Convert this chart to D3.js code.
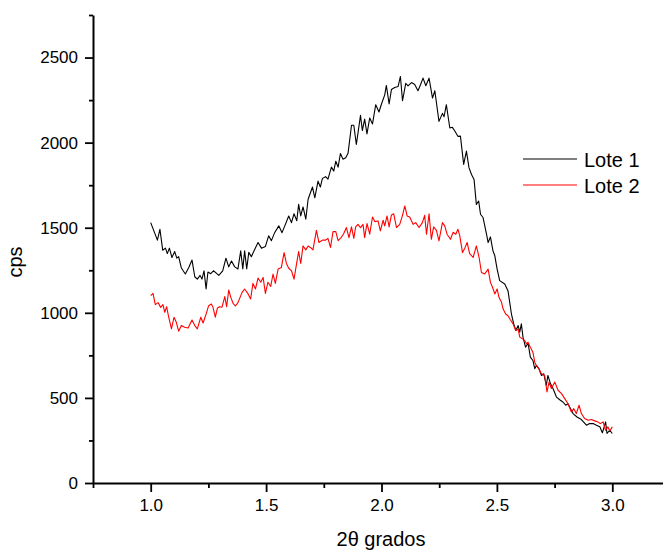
<!DOCTYPE html>
<html>
<head>
<meta charset="utf-8">
<script src="https://cdnjs.cloudflare.com/ajax/libs/d3/7.8.5/d3.min.js"></script>
<style>
body { margin: 0; background: #fff; }
svg { font-family: "Liberation Sans", Arial, sans-serif; }
</style>
</head>
<body>
<div id="chart"></div>
<script>
// Lote 1 (black)
var theta1 = [1.000,1.029,1.040,1.052,1.064,1.072,1.081,1.092,1.104,1.113,
    1.121,1.133,1.150,1.165,1.179,1.191,1.202,1.214,1.222,1.231,
    1.240,1.248,1.260,1.272,1.283,1.295,1.312,1.326,1.338,1.350,
    1.364,1.378,1.390,1.399,1.407,1.416,1.425,1.436,1.451,1.465,
    1.480,1.497,1.511,1.523,1.537,1.555,1.569,1.581,1.598,1.610,
    1.621,1.633,1.641,1.650,1.660,1.672,1.682,1.701,1.711,1.725,
    1.735,1.744,1.758,1.768,1.783,1.793,1.802,1.812,1.822,1.833,
    1.845,1.855,1.870,1.880,1.891,1.909,1.917,1.927,1.937,1.949,
    1.961,1.975,1.989,2.000,2.014,2.021,2.033,2.043,2.057,2.072,
    2.082,2.091,2.105,2.115,2.130,2.144,2.158,2.169,2.180,2.192,
    2.206,2.221,2.231,2.249,2.264,2.271,2.281,2.296,2.307,2.317,
    2.331,2.342,2.356,2.368,2.379,2.390,2.401,2.411,2.421,2.429,
    2.440,2.455,2.462,2.472,2.483,2.491,2.501,2.512,2.534,2.548,
    2.563,2.573,2.582,2.592,2.599,2.606,2.613,2.624,2.635,2.645,
    2.656,2.664,2.671,2.682,2.693,2.703,2.714,2.721,2.732,2.743,
    2.758,2.775,2.786,2.798,2.808,2.819,2.830,2.847,2.866,2.888,
    2.902,2.917,2.931,2.946,2.957,2.971,2.977,2.989,3.000];
var cps1 = [1530,1427,1491,1368,1380,1348,1380,1325,1360,1321,
    1330,1263,1228,1266,1310,1212,1198,1220,1198,1247,
    1140,1240,1230,1247,1235,1220,1247,1321,1270,1304,
    1270,1258,1364,1258,1364,1258,1355,1330,1374,1413,
    1380,1390,1452,1424,1471,1511,1471,1511,1569,1530,
    1582,1541,1637,1569,1622,1550,1667,1739,1676,1774,
    1739,1790,1800,1786,1856,1833,1891,1856,1936,1903,
    1911,1937,2102,2102,1989,2160,2071,2138,2051,2145,
    2110,2223,2180,2227,2281,2336,2227,2312,2324,2330,
    2389,2246,2348,2334,2353,2342,2305,2340,2379,2334,
    2379,2262,2305,2125,2172,2152,2223,2086,2090,2070,
    2037,2038,1872,1950,1853,1813,1784,1637,1657,1579,
    1560,1462,1413,1446,1364,1335,1257,1189,1169,1130,
    993,935,896,925,886,935,857,798,821,740,
    720,672,691,672,632,642,574,632,584,555,
    505,486,476,457,466,437,408,388,373,340,
    349,349,340,330,295,359,291,310,291];

// Lote 2 (red)
var theta2 = [1.000,1.010,1.020,1.032,1.043,1.053,1.061,1.069,1.078,1.090,
    1.101,1.111,1.121,1.133,1.147,1.162,1.179,1.191,1.202,1.217,
    1.227,1.241,1.251,1.263,1.270,1.280,1.289,1.299,1.309,1.321,
    1.329,1.338,1.347,1.357,1.367,1.378,1.396,1.407,1.422,1.433,
    1.443,1.454,1.465,1.477,1.487,1.497,1.508,1.520,1.530,1.540,
    1.552,1.566,1.578,1.588,1.598,1.610,1.621,1.631,1.641,1.650,
    1.660,1.672,1.682,1.692,1.703,1.718,1.729,1.744,1.758,1.768,
    1.779,1.790,1.802,1.812,1.826,1.836,1.848,1.859,1.870,1.880,
    1.888,1.898,1.909,1.920,1.927,1.937,1.949,1.961,1.971,1.985,
    1.995,2.007,2.014,2.024,2.033,2.043,2.053,2.065,2.079,2.091,
    2.101,2.111,2.122,2.137,2.148,2.163,2.177,2.187,2.195,2.206,
    2.216,2.226,2.238,2.249,2.264,2.274,2.284,2.299,2.310,2.322,
    2.331,2.339,2.351,2.361,2.371,2.382,2.397,2.411,2.423,2.433,
    2.447,2.462,2.472,2.481,2.491,2.501,2.509,2.520,2.527,2.538,
    2.548,2.559,2.570,2.582,2.592,2.599,2.611,2.620,2.628,2.635,
    2.645,2.656,2.664,2.671,2.682,2.693,2.707,2.717,2.726,2.736,
    2.751,2.765,2.780,2.794,2.808,2.823,2.833,2.844,2.856,2.866,
    2.880,2.895,2.909,2.924,2.938,2.948,2.960,2.971,2.981,2.989,
    3.000];
var cps2 = [1101,1114,1048,1060,1032,1048,1003,1036,974,906,
    974,944,892,925,915,911,958,925,906,974,
    940,997,1042,1052,1032,974,1028,1036,1033,1095,
    1036,1134,1091,1056,1040,1060,1120,1140,1111,1081,
    1173,1140,1204,1180,1208,1114,1180,1155,1228,1173,
    1257,1266,1354,1290,1262,1247,1198,1280,1360,1290,
    1393,1370,1393,1384,1370,1485,1413,1427,1427,1437,
    1384,1477,1477,1424,1444,1465,1501,1442,1505,1437,
    1505,1520,1501,1520,1442,1525,1462,1563,1536,1540,
    1481,1544,1511,1569,1505,1575,1582,1501,1520,1573,
    1628,1569,1563,1520,1530,1501,1530,1573,1462,1582,
    1432,1505,1485,1423,1530,1511,1462,1432,1473,1462,
    1491,1454,1354,1380,1413,1348,1325,1393,1325,1237,
    1228,1257,1179,1150,1111,1140,1091,1062,1022,993,
    983,958,935,896,905,857,847,837,818,827,
    798,769,710,690,672,642,632,535,593,555,
    593,545,525,496,466,417,437,408,457,408,
    379,369,373,365,359,349,359,310,330,306,
    330];

var seriesNames = ["Lote 1", "Lote 2"];
var seriesColors = ["#000000", "#ff0000"];

var xTicks = [1.0, 1.5, 2.0, 2.5, 3.0];
var xMinor = [0.75, 1.25, 1.75, 2.25, 2.75, 3.25];
var yTicks = [0, 500, 1000, 1500, 2000, 2500];
var yMinor = [250, 750, 1250, 1750, 2250, 2750];

var width = 663, height = 550;

var x = d3.scaleLinear().domain([0.75, 3.25]).range([93, 670]);
var y = d3.scaleLinear().domain([0, 2750]).range([483, 15]);

var svg = d3.select("#chart").append("svg")
    .attr("width", width)
    .attr("height", height);

var series = [
    {name: seriesNames[0], color: seriesColors[0], xs: theta1, ys: cps1},
    {name: seriesNames[1], color: seriesColors[1], xs: theta2, ys: cps2}
];

var line = d3.line()
    .x(function(d) { return x(d[0]); })
    .y(function(d) { return y(d[1]); });

svg.selectAll(".serie")
    .data(series)
  .enter().append("path")
    .attr("class", "serie")
    .attr("fill", "none")
    .attr("stroke", function(d) { return d.color; })
    .attr("stroke-width", 1.1)
    .attr("stroke-linejoin", "round")
    .attr("d", function(d) { return line(d3.zip(d.xs, d.ys)); });

// axes
svg.append("g")
    .attr("transform", "translate(0,483)")
    .call(d3.axisBottom(x).tickValues(xTicks).tickSize(9).tickSizeOuter(0)
        .tickPadding(7).tickFormat(d3.format(".1f")));
svg.append("g")
    .attr("transform", "translate(0,483)")
    .call(d3.axisBottom(x).tickValues(xMinor).tickSize(5).tickFormat(""))
    .select(".domain").remove();

svg.append("g")
    .attr("transform", "translate(93,0)")
    .call(d3.axisLeft(y).tickValues(yTicks).tickSize(8).tickSizeOuter(0)
        .tickPadding(7).tickFormat(d3.format("d")));
svg.append("g")
    .attr("transform", "translate(93,0)")
    .call(d3.axisLeft(y).tickValues(yMinor).tickSize(4).tickFormat(""))
    .select(".domain").remove();

svg.selectAll(".domain").attr("stroke", "#000").attr("stroke-width", 2);
svg.selectAll(".tick line").attr("stroke", "#000").attr("stroke-width", 1.8);
svg.selectAll(".tick text")
    .attr("font-family", "Liberation Sans, Arial, sans-serif")
    .attr("font-size", 17)
    .attr("fill", "#000");

// axis titles
svg.append("text")
    .attr("transform", "translate(22,262) rotate(-90)")
    .attr("text-anchor", "middle")
    .attr("font-size", 20)
    .text("cps");

svg.append("text")
    .attr("x", 381)
    .attr("y", 546)
    .attr("text-anchor", "middle")
    .attr("font-size", 20)
    .text("2\u03b8 grados");

// legend
var legend = svg.selectAll(".legend")
    .data(series)
  .enter().append("g")
    .attr("class", "legend")
    .attr("transform", function(d, i) { return "translate(523," + (159 + i * 26) + ")"; });

legend.append("line")
    .attr("x1", 0)
    .attr("x2", 54)
    .attr("stroke", function(d) { return d.color; })
    .attr("stroke-width", 1.2);

legend.append("text")
    .attr("x", 61)
    .attr("y", 7.5)
    .attr("font-size", 20)
    .text(function(d) { return d.name; });
</script>
</body>
</html>
